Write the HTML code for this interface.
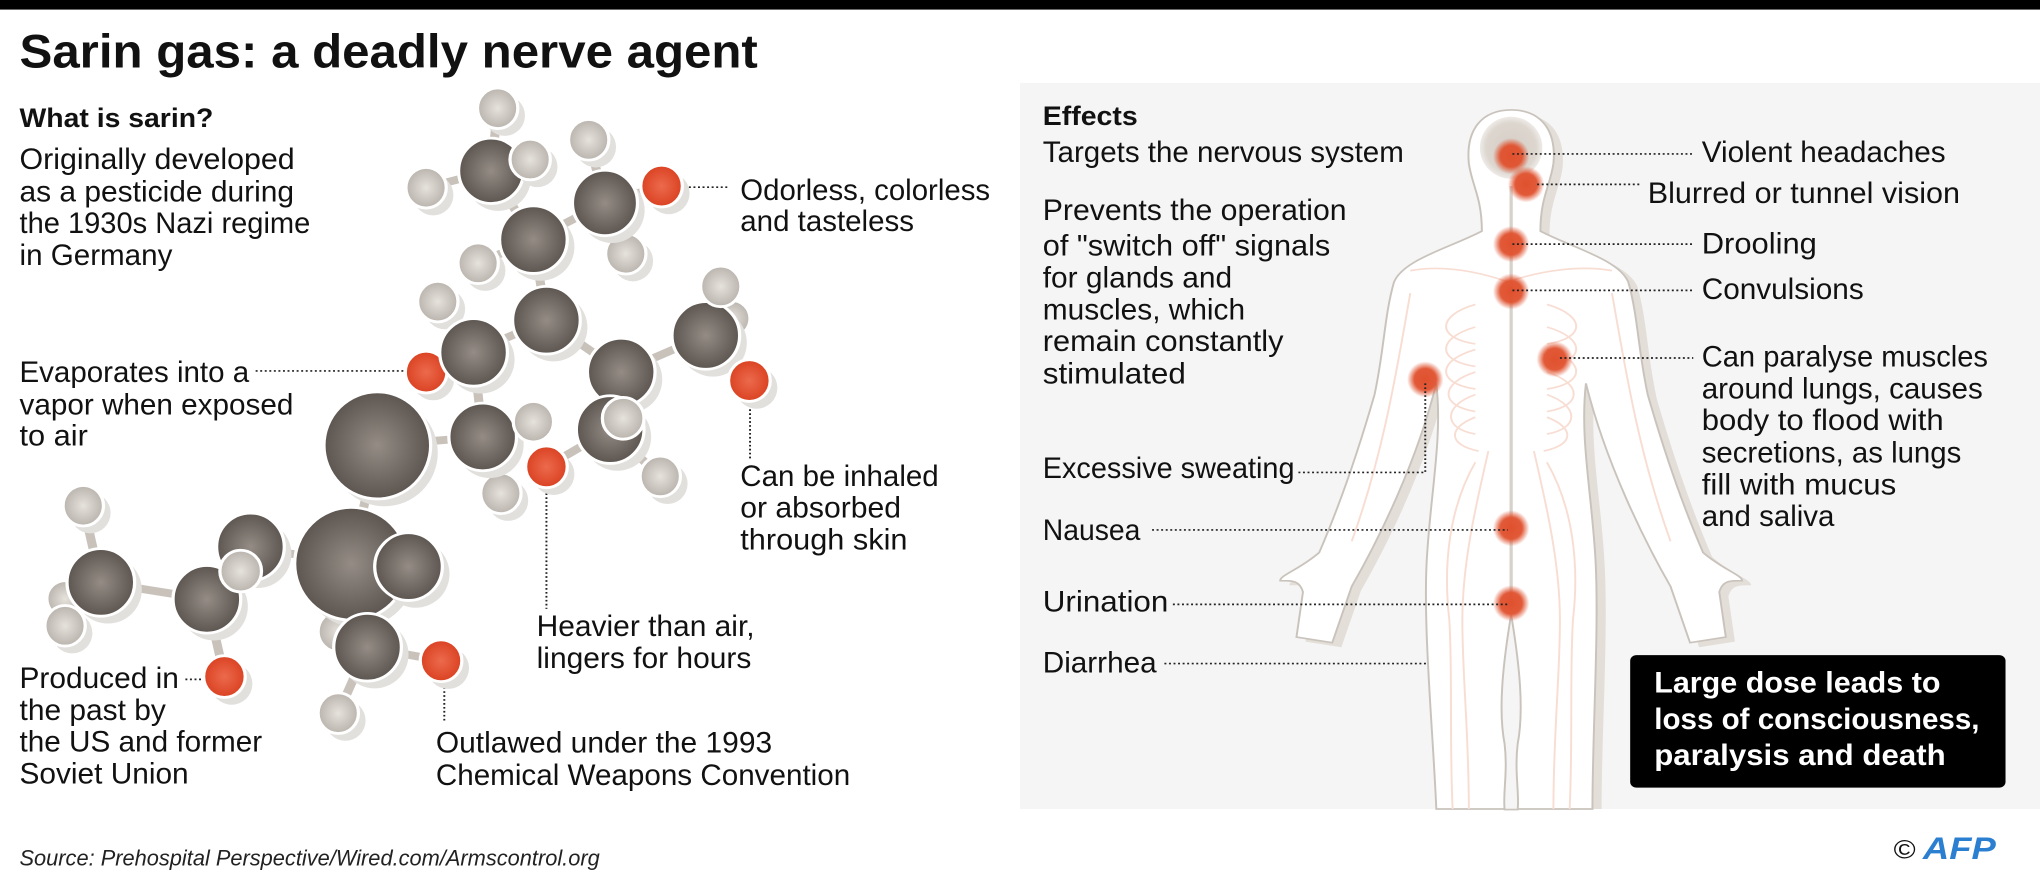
<!DOCTYPE html>
<html><head><meta charset="utf-8">
<style>
html,body{margin:0;padding:0;background:#fff;overflow:hidden;}
svg{display:block;}
text{font-family:"Liberation Sans",sans-serif;fill:#111;}
.b{font-size:52px;}
.h{font-size:48px;font-weight:bold;}
.w{fill:#fff;font-size:52px;font-weight:bold;}
</style></head><body>
<svg width="2040" height="884" viewBox="0 0 3136 1568" preserveAspectRatio="none" xmlns="http://www.w3.org/2000/svg">
<defs>
<radialGradient id="gc" cx="50%" cy="50%" r="55%"><stop offset="0" stop-color="#948c85"/><stop offset="1" stop-color="#57504b"/></radialGradient>
<radialGradient id="gh" cx="50%" cy="50%" r="55%"><stop offset="0" stop-color="#e6e2dc"/><stop offset="1" stop-color="#b5afa8"/></radialGradient>
<radialGradient id="go" cx="50%" cy="50%" r="55%"><stop offset="0" stop-color="#ec6a4c"/><stop offset="1" stop-color="#d83e1e"/></radialGradient>
<radialGradient id="gd"><stop offset="0" stop-color="#e0512e"/><stop offset="0.6" stop-color="#e0512e" stop-opacity="0.95"/><stop offset="1" stop-color="#e0512e" stop-opacity="0"/></radialGradient>
<radialGradient id="ghead"><stop offset="0" stop-color="#d6cec6"/><stop offset="0.8" stop-color="#ddd6cf"/><stop offset="1" stop-color="#e2dcd6" stop-opacity="0.6"/></radialGradient>
</defs>
<rect x="0" y="0" width="3136" height="1568" fill="#fff"/>
<rect x="0" y="0" width="3136" height="17" fill="#000"/>
<rect x="1568" y="147" width="1568" height="1288" fill="#f5f5f5"/>

<text x="30" y="120" style="font-size:84px;font-weight:bold" textLength="1135" lengthAdjust="spacingAndGlyphs">Sarin gas: a deadly nerve agent</text>
<text x="30" y="225" class="h" textLength="298" lengthAdjust="spacingAndGlyphs">What is sarin?</text>
<text x="30" y="300" class="b" textLength="423" lengthAdjust="spacingAndGlyphs">Originally developed</text>
<text x="30" y="357" class="b" textLength="422" lengthAdjust="spacingAndGlyphs">as a pesticide during</text>
<text x="30" y="413" class="b" textLength="447" lengthAdjust="spacingAndGlyphs">the 1930s Nazi regime</text>
<text x="30" y="470" class="b" textLength="235" lengthAdjust="spacingAndGlyphs">in Germany</text>
<text x="30" y="678" class="b" textLength="353" lengthAdjust="spacingAndGlyphs">Evaporates into a</text>
<text x="30" y="735" class="b" textLength="421" lengthAdjust="spacingAndGlyphs">vapor when exposed</text>
<text x="30" y="790" class="b" textLength="105" lengthAdjust="spacingAndGlyphs">to air</text>
<text x="30" y="1220" class="b" textLength="245" lengthAdjust="spacingAndGlyphs">Produced in</text>
<text x="30" y="1277" class="b" textLength="225" lengthAdjust="spacingAndGlyphs">the past by</text>
<text x="30" y="1333" class="b" textLength="373" lengthAdjust="spacingAndGlyphs">the US and former</text>
<text x="30" y="1390" class="b" textLength="260" lengthAdjust="spacingAndGlyphs">Soviet Union</text>
<text x="1138" y="355" class="b" textLength="384" lengthAdjust="spacingAndGlyphs">Odorless, colorless</text>
<text x="1138" y="410" class="b" textLength="267" lengthAdjust="spacingAndGlyphs">and tasteless</text>
<text x="1138" y="862" class="b" textLength="305" lengthAdjust="spacingAndGlyphs">Can be inhaled</text>
<text x="1138" y="918" class="b" textLength="247" lengthAdjust="spacingAndGlyphs">or absorbed</text>
<text x="1138" y="975" class="b" textLength="257" lengthAdjust="spacingAndGlyphs">through skin</text>
<text x="825" y="1128" class="b" textLength="335" lengthAdjust="spacingAndGlyphs">Heavier than air,</text>
<text x="825" y="1185" class="b" textLength="330" lengthAdjust="spacingAndGlyphs">lingers for hours</text>
<text x="670" y="1335" class="b" textLength="517" lengthAdjust="spacingAndGlyphs">Outlawed under the 1993</text>
<text x="670" y="1392" class="b" textLength="637" lengthAdjust="spacingAndGlyphs">Chemical Weapons Convention</text>
<text x="30" y="1535" style="font-size:40px;font-style:italic;fill:#222" textLength="892" lengthAdjust="spacingAndGlyphs">Source: Prehospital Perspective/Wired.com/Armscontrol.org</text>

<g stroke="#222" stroke-width="3" stroke-dasharray="3,4" fill="none">
<line x1="1052" y1="332" x2="1122" y2="332"/>
<line x1="393" y1="658" x2="620" y2="658"/>
<line x1="1153" y1="712" x2="1153" y2="815"/>
<line x1="840" y1="868" x2="840" y2="1080"/>
<line x1="285" y1="1205" x2="312" y2="1205"/>
<line x1="683" y1="1212" x2="683" y2="1280"/>
</g>

<g stroke="#c8c2bb" stroke-width="14" stroke-linecap="round">
<line x1="765" y1="192" x2="755" y2="303"/><line x1="655" y1="333" x2="755" y2="303"/><line x1="815" y1="283" x2="755" y2="303"/>
<line x1="755" y1="303" x2="820" y2="425"/><line x1="905" y1="248" x2="930" y2="360"/><line x1="930" y1="360" x2="1017" y2="330"/>
<line x1="930" y1="360" x2="820" y2="425"/><line x1="930" y1="360" x2="962" y2="450"/><line x1="735" y1="467" x2="820" y2="425"/>
<line x1="820" y1="425" x2="840" y2="568"/><line x1="840" y1="568" x2="728" y2="625"/><line x1="840" y1="568" x2="955" y2="660"/>
<line x1="673" y1="535" x2="728" y2="625"/><line x1="728" y1="625" x2="655" y2="660"/><line x1="728" y1="625" x2="742" y2="775"/>
<line x1="955" y1="660" x2="1085" y2="595"/><line x1="1085" y1="595" x2="1108" y2="508"/><line x1="1085" y1="595" x2="1152" y2="675"/>
<line x1="955" y1="660" x2="938" y2="762"/><line x1="938" y1="762" x2="840" y2="828"/><line x1="938" y1="762" x2="1015" y2="845"/>
<line x1="742" y1="775" x2="820" y2="748"/><line x1="742" y1="775" x2="770" y2="875"/><line x1="742" y1="775" x2="580" y2="790"/>
<line x1="580" y1="790" x2="540" y2="1000"/><line x1="540" y1="1000" x2="385" y2="970"/><line x1="540" y1="1000" x2="565" y2="1148"/>
<line x1="318" y1="1063" x2="155" y2="1033"/><line x1="318" y1="1063" x2="345" y2="1200"/><line x1="155" y1="1033" x2="128" y2="897"/>
<line x1="155" y1="1033" x2="100" y2="1110"/><line x1="565" y1="1148" x2="678" y2="1172"/><line x1="565" y1="1148" x2="520" y2="1265"/>
</g>

<g stroke="#fff" stroke-width="5">
<ellipse cx="776" cy="205" rx="31" ry="36" fill="#e2e0dd" stroke="none"/><ellipse cx="765" cy="192" rx="31" ry="36" fill="url(#gh)"/>
<ellipse cx="916" cy="261" rx="31" ry="36" fill="#e2e0dd" stroke="none"/><ellipse cx="905" cy="248" rx="31" ry="36" fill="url(#gh)"/>
<ellipse cx="666" cy="346" rx="31" ry="36" fill="#e2e0dd" stroke="none"/><ellipse cx="655" cy="333" rx="31" ry="36" fill="url(#gh)"/>
<ellipse cx="766" cy="316" rx="50" ry="58" fill="#e2e0dd" stroke="none"/><ellipse cx="755" cy="303" rx="50" ry="58" fill="url(#gc)"/>
<ellipse cx="826" cy="296" rx="31" ry="36" fill="#e2e0dd" stroke="none"/><ellipse cx="815" cy="283" rx="31" ry="36" fill="url(#gh)"/>
<ellipse cx="746" cy="480" rx="31" ry="36" fill="#e2e0dd" stroke="none"/><ellipse cx="735" cy="467" rx="31" ry="36" fill="url(#gh)"/>
<ellipse cx="973" cy="463" rx="31" ry="36" fill="#e2e0dd" stroke="none"/><ellipse cx="962" cy="450" rx="31" ry="36" fill="url(#gh)"/>
<ellipse cx="941" cy="373" rx="50" ry="58" fill="#e2e0dd" stroke="none"/><ellipse cx="930" cy="360" rx="50" ry="58" fill="url(#gc)"/>
<ellipse cx="1028" cy="343" rx="32" ry="37" fill="#e2e0dd" stroke="none"/><ellipse cx="1017" cy="330" rx="32" ry="37" fill="url(#go)"/>
<ellipse cx="831" cy="438" rx="52" ry="60" fill="#e2e0dd" stroke="none"/><ellipse cx="820" cy="425" rx="52" ry="60" fill="url(#gc)"/>
<ellipse cx="684" cy="548" rx="31" ry="36" fill="#e2e0dd" stroke="none"/><ellipse cx="673" cy="535" rx="31" ry="36" fill="url(#gh)"/>
<ellipse cx="1125" cy="565" rx="28" ry="32" fill="url(#gh)"/>
<ellipse cx="851" cy="581" rx="52" ry="60" fill="#e2e0dd" stroke="none"/><ellipse cx="840" cy="568" rx="52" ry="60" fill="url(#gc)"/>
<ellipse cx="666" cy="673" rx="32" ry="37" fill="#e2e0dd" stroke="none"/><ellipse cx="655" cy="660" rx="32" ry="37" fill="url(#go)"/>
<ellipse cx="739" cy="638" rx="52" ry="60" fill="#e2e0dd" stroke="none"/><ellipse cx="728" cy="625" rx="52" ry="60" fill="url(#gc)"/>
<ellipse cx="1096" cy="608" rx="52" ry="60" fill="#e2e0dd" stroke="none"/><ellipse cx="1085" cy="595" rx="52" ry="60" fill="url(#gc)"/>
<ellipse cx="1108" cy="508" rx="31" ry="36" fill="url(#gh)"/>
<ellipse cx="1163" cy="688" rx="32" ry="37" fill="#e2e0dd" stroke="none"/><ellipse cx="1152" cy="675" rx="32" ry="37" fill="url(#go)"/>
<ellipse cx="966" cy="673" rx="52" ry="60" fill="#e2e0dd" stroke="none"/><ellipse cx="955" cy="660" rx="52" ry="60" fill="url(#gc)"/>
<ellipse cx="1026" cy="858" rx="31" ry="36" fill="#e2e0dd" stroke="none"/><ellipse cx="1015" cy="845" rx="31" ry="36" fill="url(#gh)"/>
<ellipse cx="949" cy="775" rx="52" ry="60" fill="#e2e0dd" stroke="none"/><ellipse cx="938" cy="762" rx="52" ry="60" fill="url(#gc)"/>
<ellipse cx="958" cy="742" rx="32" ry="37" fill="url(#gh)"/>
<ellipse cx="591" cy="803" rx="82" ry="95" fill="#e2e0dd" stroke="none"/><ellipse cx="580" cy="790" rx="82" ry="95" fill="url(#gc)"/>
<ellipse cx="781" cy="888" rx="31" ry="36" fill="#e2e0dd" stroke="none"/><ellipse cx="770" cy="875" rx="31" ry="36" fill="url(#gh)"/>
<ellipse cx="753" cy="788" rx="52" ry="60" fill="#e2e0dd" stroke="none"/><ellipse cx="742" cy="775" rx="52" ry="60" fill="url(#gc)"/>
<ellipse cx="820" cy="748" rx="31" ry="36" fill="url(#gh)"/>
<ellipse cx="851" cy="841" rx="32" ry="37" fill="#e2e0dd" stroke="none"/><ellipse cx="840" cy="828" rx="32" ry="37" fill="url(#go)"/>
<ellipse cx="139" cy="910" rx="31" ry="36" fill="#e2e0dd" stroke="none"/><ellipse cx="128" cy="897" rx="31" ry="36" fill="url(#gh)"/>
<ellipse cx="100" cy="1062" rx="28" ry="32" fill="url(#gh)"/>
<ellipse cx="166" cy="1046" rx="52" ry="60" fill="#e2e0dd" stroke="none"/><ellipse cx="155" cy="1033" rx="52" ry="60" fill="url(#gc)"/>
<ellipse cx="111" cy="1123" rx="31" ry="36" fill="#e2e0dd" stroke="none"/><ellipse cx="100" cy="1110" rx="31" ry="36" fill="url(#gh)"/>
<ellipse cx="396" cy="983" rx="52" ry="60" fill="#e2e0dd" stroke="none"/><ellipse cx="385" cy="970" rx="52" ry="60" fill="url(#gc)"/>
<ellipse cx="329" cy="1076" rx="52" ry="60" fill="#e2e0dd" stroke="none"/><ellipse cx="318" cy="1063" rx="52" ry="60" fill="url(#gc)"/>
<ellipse cx="370" cy="1013" rx="32" ry="37" fill="url(#gh)"/>
<ellipse cx="356" cy="1213" rx="32" ry="37" fill="#e2e0dd" stroke="none"/><ellipse cx="345" cy="1200" rx="32" ry="37" fill="url(#go)"/>
<ellipse cx="520" cy="1120" rx="31" ry="36" fill="url(#gh)"/>
<ellipse cx="551" cy="1013" rx="87" ry="100" fill="#e2e0dd" stroke="none"/><ellipse cx="540" cy="1000" rx="87" ry="100" fill="url(#gc)"/>
<ellipse cx="639" cy="1018" rx="52" ry="60" fill="#e2e0dd" stroke="none"/><ellipse cx="628" cy="1005" rx="52" ry="60" fill="url(#gc)"/>
<ellipse cx="576" cy="1161" rx="52" ry="60" fill="#e2e0dd" stroke="none"/><ellipse cx="565" cy="1148" rx="52" ry="60" fill="url(#gc)"/>
<ellipse cx="531" cy="1278" rx="31" ry="36" fill="#e2e0dd" stroke="none"/><ellipse cx="520" cy="1265" rx="31" ry="36" fill="url(#gh)"/>
<ellipse cx="689" cy="1185" rx="32" ry="37" fill="#e2e0dd" stroke="none"/><ellipse cx="678" cy="1172" rx="32" ry="37" fill="url(#go)"/>
</g>

<g transform="translate(1568,0)">
<path transform="translate(14,8)" fill="#e3ded8" d="M755 195 C800 195 825 230 820 290 C815 330 800 350 800 410 C850 440 920 460 935 500 C950 560 950 620 965 700 C990 800 1020 900 1050 980 C1080 1010 1110 1020 1110 1030 C1090 1030 1080 1030 1075 1050 L1085 1130 L1030 1140 L1000 1040 C960 960 900 820 870 680 C860 780 880 880 885 1000 C890 1120 880 1300 880 1427 L640 1427 C635 1300 620 1120 625 1000 C630 880 650 780 640 680 C610 820 550 960 510 1040 L480 1140 L425 1130 L435 1050 C430 1030 420 1030 400 1030 C400 1020 430 1010 460 980 C490 900 520 800 545 700 C560 620 560 560 575 500 C590 460 660 440 710 410 C710 350 695 330 690 290 C685 230 710 195 755 195 Z"/>
<path fill="#fff" stroke="#c9c3bc" stroke-width="3" d="M755 195 C800 195 825 230 820 290 C815 330 800 350 800 410 C850 440 920 460 935 500 C950 560 950 620 965 700 C990 800 1020 900 1050 980 C1080 1010 1110 1020 1110 1030 C1090 1030 1080 1030 1075 1050 L1085 1130 L1030 1140 L1000 1040 C960 960 900 820 870 680 C860 780 880 880 885 1000 C890 1120 880 1300 880 1435 L640 1435 C635 1300 620 1120 625 1000 C630 880 650 780 640 680 C610 820 550 960 510 1040 L480 1140 L425 1130 L435 1050 C430 1030 420 1030 400 1030 C400 1020 430 1010 460 980 C490 900 520 800 545 700 C560 620 560 560 575 500 C590 460 660 440 710 410 C710 350 695 330 690 290 C685 230 710 195 755 195 Z"/>
<path d="M755 1090 C742 1180 735 1260 745 1320 C750 1370 742 1410 745 1436 L765 1436 C768 1410 760 1370 765 1320 C775 1260 768 1180 755 1090 Z" fill="#f5f5f5" stroke="#c9c3bc" stroke-width="3"/>
<ellipse cx="755" cy="262" rx="48" ry="55" fill="url(#ghead)"/>
<g stroke="#f8ddd3" stroke-width="3" fill="none">
<path d="M700 540 C640 560 640 600 700 610 M700 580 C640 600 640 640 700 650 M700 620 C640 640 640 680 700 690 M700 660 C645 680 645 720 700 730 M700 700 C650 720 650 760 700 770 M700 740 C655 760 660 790 705 800"/>
<path d="M810 540 C870 560 870 600 810 610 M810 580 C870 600 870 640 810 650 M810 620 C870 640 870 680 810 690 M810 660 C865 680 865 720 810 730 M810 700 C860 720 860 760 810 770 M810 740 C855 760 850 790 805 800"/>
<path d="M600 480 C650 470 700 480 750 500 C800 480 860 470 910 480"/>
<path d="M720 800 C700 900 680 1000 680 1100 C680 1200 690 1300 690 1435 M790 800 C810 900 830 1000 830 1100 C830 1200 820 1300 820 1435"/>
<path d="M700 820 C660 900 650 1000 660 1100 C665 1200 660 1300 665 1435 M810 820 C850 900 860 1000 850 1100 C845 1200 850 1300 845 1435"/>
<path d="M600 520 C580 650 560 800 510 960 M910 520 C930 650 950 800 1000 960"/>
</g>
<line x1="755" y1="330" x2="755" y2="1080" stroke="#d8d1ca" stroke-width="5"/>
<g fill="url(#gd)">
<ellipse cx="755" cy="277" rx="28" ry="32"/><ellipse cx="778" cy="327" rx="28" ry="32"/><ellipse cx="755" cy="433" rx="28" ry="32"/><ellipse cx="755" cy="517" rx="28" ry="32"/>
<ellipse cx="822" cy="637" rx="28" ry="32"/><ellipse cx="623" cy="673" rx="28" ry="32"/><ellipse cx="755" cy="937" rx="28" ry="32"/><ellipse cx="755" cy="1070" rx="28" ry="32"/>
</g>
<g stroke="#222" stroke-width="3" stroke-dasharray="3,4" fill="none">
<line x1="757" y1="273" x2="1035" y2="273"/>
<line x1="795" y1="327" x2="955" y2="327"/>
<line x1="757" y1="433" x2="1035" y2="433"/>
<line x1="757" y1="515" x2="1035" y2="515"/>
<line x1="830" y1="635" x2="1035" y2="635"/>
<polyline points="428,838 623,838 623,680"/>
<line x1="203" y1="940" x2="750" y2="940"/>
<line x1="235" y1="1072" x2="750" y2="1072"/>
<line x1="222" y1="1177" x2="625" y2="1177"/>
</g>
<text x="35" y="222" class="h" textLength="146" lengthAdjust="spacingAndGlyphs">Effects</text>
<text x="35" y="287" class="b" textLength="555" lengthAdjust="spacingAndGlyphs">Targets the nervous system</text>
<text x="35" y="390" class="b" textLength="467" lengthAdjust="spacingAndGlyphs">Prevents the operation</text>
<text x="35" y="453" class="b" textLength="442" lengthAdjust="spacingAndGlyphs">of "switch off" signals</text>
<text x="35" y="510" class="b" textLength="291" lengthAdjust="spacingAndGlyphs">for glands and</text>
<text x="35" y="567" class="b" textLength="311" lengthAdjust="spacingAndGlyphs">muscles, which</text>
<text x="35" y="623" class="b" textLength="370" lengthAdjust="spacingAndGlyphs">remain constantly</text>
<text x="35" y="680" class="b" textLength="220" lengthAdjust="spacingAndGlyphs">stimulated</text>
<text x="35" y="848" class="b" textLength="387" lengthAdjust="spacingAndGlyphs">Excessive sweating</text>
<text x="35" y="958" class="b" textLength="150" lengthAdjust="spacingAndGlyphs">Nausea</text>
<text x="35" y="1085" class="b" textLength="193" lengthAdjust="spacingAndGlyphs">Urination</text>
<text x="35" y="1193" class="b" textLength="175" lengthAdjust="spacingAndGlyphs">Diarrhea</text>
<text x="1048" y="287" class="b" textLength="375" lengthAdjust="spacingAndGlyphs">Violent headaches</text>
<text x="965" y="360" class="b" textLength="480" lengthAdjust="spacingAndGlyphs">Blurred or tunnel vision</text>
<text x="1048" y="450" class="b" textLength="177" lengthAdjust="spacingAndGlyphs">Drooling</text>
<text x="1048" y="530" class="b" textLength="249" lengthAdjust="spacingAndGlyphs">Convulsions</text>
<text x="1048" y="650" class="b" textLength="440" lengthAdjust="spacingAndGlyphs">Can paralyse muscles</text>
<text x="1048" y="707" class="b" textLength="432" lengthAdjust="spacingAndGlyphs">around lungs, causes</text>
<text x="1048" y="763" class="b" textLength="372" lengthAdjust="spacingAndGlyphs">body to flood with</text>
<text x="1048" y="820" class="b" textLength="399" lengthAdjust="spacingAndGlyphs">secretions, as lungs</text>
<text x="1048" y="877" class="b" textLength="299" lengthAdjust="spacingAndGlyphs">fill with mucus</text>
<text x="1048" y="933" class="b" textLength="204" lengthAdjust="spacingAndGlyphs">and saliva</text>
<rect x="938" y="1162" width="577" height="235" rx="10" fill="#000"/>
<text x="975" y="1228" class="w" textLength="440" lengthAdjust="spacingAndGlyphs">Large dose leads to</text>
<text x="975" y="1293" class="w" textLength="500" lengthAdjust="spacingAndGlyphs">loss of consciousness,</text>
<text x="975" y="1357" class="w" textLength="448" lengthAdjust="spacingAndGlyphs">paralysis and death</text>
<text x="1343" y="1523" style="font-size:46px;fill:#111">©</text>
<text x="1388" y="1524" style="font-size:56px;font-weight:bold;font-style:italic;fill:#2b7fd0" textLength="112" lengthAdjust="spacingAndGlyphs">AFP</text>
</g>
</svg>
</body></html>
